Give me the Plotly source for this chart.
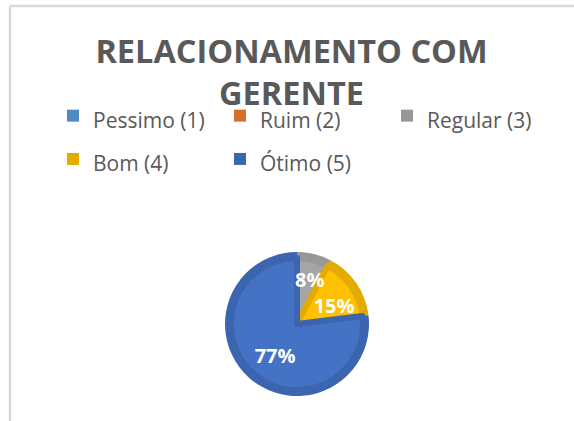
import plotly.graph_objects as go

# ---- data ----
categories = ["Pessimo (1)", "Ruim (2)", "Regular (3)", "Bom (4)", "Ótimo (5)"]
counts = [0, 0, 1, 2, 10]
label_fmt = ["", "", "%{percent:.0%}", "%{percent:.0%}", "%{percent:.0%}"]
title_text = "RELACIONAMENTO COM<br>GERENTE"

# ---- styles ----
colors_light = ["#5B9BD5", "#ED7D31", "#A5A5A5", "#FFC000", "#4472C4"]
colors_dark = ["#4F8AC0", "#D56F2A", "#979797", "#E3AA00", "#3C65B0"]
clear = ["rgba(0,0,0,0)"] * len(categories)

W, H = 574, 421
CX, CY = 297, 324
R_BASE, R_TOP = 72, 66
TEXT_DY = 7  # label layer sits a little lower, as in the original


def dom(r, dy=0):
    cy = CY + dy
    return dict(x=[(CX - r) / W, (CX + r) / W],
                y=[(H - cy - r) / H, (H - cy + r) / H])


legend_labels = [f"<span style='font-size:21px'>{c}</span>" for c in categories]

common = dict(labels=legend_labels, values=counts, sort=False,
              direction="clockwise", rotation=0)

fig = go.Figure()
# darker base disc (bevel edge) - also provides the legend
fig.add_trace(go.Pie(
    **common, domain=dom(R_BASE), marker=dict(colors=colors_dark),
    textinfo="none", hoverinfo="skip", showlegend=True,
))
# lighter inner pie
fig.add_trace(go.Pie(
    **common, domain=dom(R_TOP),
    marker=dict(colors=colors_light, line=dict(color=colors_dark, width=6)),
    textinfo="none", showlegend=False,
))
# transparent layer carrying the percentage labels (kept on top)
fig.add_trace(go.Pie(
    **common, domain=dom(R_TOP, TEXT_DY),
    marker=dict(colors=clear, line=dict(width=0)),
    texttemplate=label_fmt, textposition="inside",
    insidetextorientation="horizontal",
    textfont=dict(family="Open Sans", size=20, color="white", weight="bold"),
    hoverinfo="skip", showlegend=False,
))

fig.update_layout(
    width=W, height=H,
    margin=dict(l=0, r=0, t=0, b=0),
    paper_bgcolor="white", plot_bgcolor="white",
    title=dict(text=title_text, x=291.5 / W, xanchor="center",
               y=1 - 63 / H, yanchor="top", yref="container",
               font=dict(family="Open Sans", size=32.5, color="#595959", weight="bold")),
    legend=dict(orientation="h", x=53 / W, xanchor="left", y=1 - 89 / H,
                yanchor="top", entrywidth=122, entrywidthmode="pixels",
                font=dict(family="Open Sans", size=31, color="#595959"),
                traceorder="normal"),
    uniformtext=dict(minsize=20, mode="show"),
    shapes=[
        dict(type="line", xref="paper", yref="paper", x0=10 / W, x1=1, y0=1 - 6 / H, y1=1 - 6 / H,
             line=dict(color="#D9D9D9", width=2.5)),
        dict(type="line", xref="paper", yref="paper", x0=10 / W, x1=10 / W, y0=0, y1=1 - 6 / H,
             line=dict(color="#D9D9D9", width=2.5)),
    ],
)

fig.write_html("out.html", config={"displayModeBar": False},
               post_script="document.body.style.margin='0';")
